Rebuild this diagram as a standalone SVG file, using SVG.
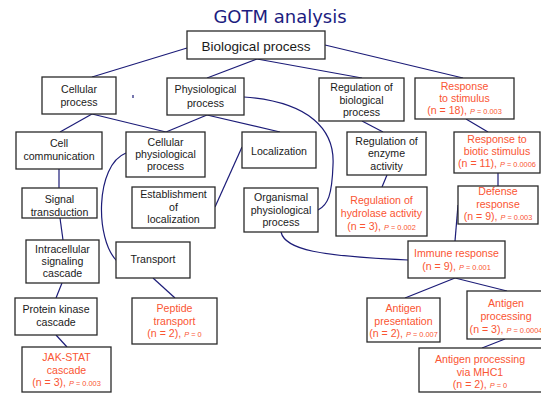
<svg xmlns="http://www.w3.org/2000/svg" width="541" height="394" viewBox="0 0 541 394">
<style>
.box{fill:#fff;stroke:#2a2a2a;stroke-width:1.3}
.t{font-family:"Liberation Sans",Arial,sans-serif;font-size:10.6px;fill:#1a1a1a;text-anchor:middle}
.r{fill:#fa5533}
.p{font-size:7.4px}
.pi{font-style:italic}
.c{fill:none;stroke:#1c1c78;stroke-width:1.2}
.title{font-family:"DejaVu Sans",Verdana,sans-serif;font-size:18px;fill:#1c1c80;text-anchor:middle}
</style>
<rect width="541" height="394" fill="#fff"/>
<text class="title" x="280" y="23">GOTM analysis</text>
<g id="connectors">
<line class="c" x1="187" y1="48" x2="92" y2="77"/>
<line class="c" x1="257" y1="59" x2="207" y2="78"/>
<line class="c" x1="257" y1="59" x2="362" y2="78"/>
<line class="c" x1="325" y1="45" x2="463" y2="78"/>
<line class="c" x1="92" y1="114" x2="60" y2="132"/>
<line class="c" x1="92" y1="114" x2="166" y2="132"/>
<line class="c" x1="207" y1="115" x2="166" y2="132"/>
<line class="c" x1="207" y1="115" x2="280" y2="132"/>
<path class="c" d="M244,97 C310,102 335,130 333,165 C332,195 328,205 318,210"/>
<line class="c" x1="362" y1="121" x2="383" y2="132"/>
<line class="c" x1="466" y1="119" x2="488" y2="132"/>
<line class="c" x1="59" y1="169" x2="59" y2="188"/>
<path class="c" d="M126,153 C95,165 95,240 117,261"/>
<line class="c" x1="215" y1="207" x2="242" y2="147"/>
<line class="c" x1="387" y1="175" x2="382" y2="187"/>
<line class="c" x1="498" y1="173" x2="498" y2="186"/>
<line class="c" x1="60" y1="218" x2="63" y2="240"/>
<line class="c" x1="458" y1="205" x2="455" y2="241"/>
<path class="c" d="M281,232 C285,250 320,256 408,260"/>
<line class="c" x1="62" y1="283" x2="56" y2="298"/>
<line class="c" x1="153" y1="278" x2="175" y2="298"/>
<line class="c" x1="56" y1="335" x2="67" y2="347"/>
<line class="c" x1="455" y1="278" x2="405" y2="298"/>
<line class="c" x1="455" y1="278" x2="507" y2="291"/>
<line class="c" x1="505" y1="339" x2="482" y2="348"/>
<line class="c" x1="133" y1="95" x2="133" y2="98" stroke-width="1"/>
</g>
<g id="bio"><rect class="box" x="187" y="31" width="138" height="28"/><text class="t" x="256" y="51" style="font-size:13.5px">Biological process</text></g>
<g id="cellular"><rect class="box" x="42" y="77" width="74" height="37"/><text class="t" x="79" y="93">Cellular</text><text class="t" x="79" y="106">process</text></g>
<g id="physiological"><rect class="box" x="167" y="78" width="77" height="37"/><text class="t" x="205.5" y="93">Physiological</text><text class="t" x="205.5" y="107">process</text></g>
<g id="regbio"><rect class="box" x="319" y="78" width="85" height="43"/><text class="t" x="361.5" y="91">Regulation of</text><text class="t" x="361.5" y="103.5">biological</text><text class="t" x="361.5" y="116">process</text></g>
<g id="stimulus"><rect class="box" x="415" y="78" width="99" height="41"/><text class="t r" x="464.5" y="90">Response</text><text class="t r" x="464.5" y="102">to stimulus</text><text class="t r" x="464.5" y="114">(n = 18), <tspan class="p pi">P</tspan><tspan class="p"> = 0.003</tspan></text></g>
<g id="cellcomm"><rect class="box" x="16" y="132" width="86" height="37"/><text class="t" x="59" y="147">Cell</text><text class="t" x="59" y="160">communication</text></g>
<g id="cellphys"><rect class="box" x="126" y="132" width="79" height="45"/><text class="t" x="165.5" y="146">Cellular</text><text class="t" x="165.5" y="158">physiological</text><text class="t" x="165.5" y="170">process</text></g>
<g id="localization"><rect class="box" x="242" y="132" width="74" height="36"/><text class="t" x="279" y="155">Localization</text></g>
<g id="regenzyme"><rect class="box" x="347" y="132" width="79" height="43"/><text class="t" x="386.5" y="145">Regulation of</text><text class="t" x="386.5" y="157">enzyme</text><text class="t" x="386.5" y="169.5">activity</text></g>
<g id="biotic"><rect class="box" x="454" y="132" width="86" height="41"/><text class="t r" x="497" y="143">Response to</text><text class="t r" x="497" y="155">biotic stimulus</text><text class="t r" x="497" y="167">(n = 11), <tspan class="p pi">P</tspan><tspan class="p"> = 0.0006</tspan></text></g>
<g id="signal"><rect class="box" x="22" y="188" width="75" height="30"/><text class="t" x="59.5" y="203">Signal</text><text class="t" x="59.5" y="216">transduction</text></g>
<g id="establishment"><rect class="box" x="132" y="187" width="83" height="41"/><text class="t" x="173.5" y="198">Establishment</text><text class="t" x="173.5" y="210.5">of</text><text class="t" x="173.5" y="223">localization</text></g>
<g id="organismal"><rect class="box" x="244" y="188" width="74" height="44"/><text class="t" x="281" y="201">Organismal</text><text class="t" x="281" y="213.5">physiological</text><text class="t" x="281" y="226">process</text></g>
<g id="hydrolase"><rect class="box" x="336" y="187" width="91" height="49"/><text class="t r" x="381.5" y="204">Regulation of</text><text class="t r" x="381.5" y="217">hydrolase activity</text><text class="t r" x="381.5" y="230">(n = 3), <tspan class="p pi">P</tspan><tspan class="p"> = 0.002</tspan></text></g>
<g id="defense"><rect class="box" x="458" y="186" width="80" height="38"/><text class="t r" x="498" y="195">Defense</text><text class="t r" x="498" y="207.5">response</text><text class="t r" x="498" y="220">(n = 9), <tspan class="p pi">P</tspan><tspan class="p"> = 0.003</tspan></text></g>
<g id="intracellular"><rect class="box" x="26" y="240" width="73" height="43"/><text class="t" x="62.5" y="253">Intracellular</text><text class="t" x="62.5" y="265">signaling</text><text class="t" x="62.5" y="277">cascade</text></g>
<g id="transport"><rect class="box" x="116" y="242" width="74" height="36"/><text class="t" x="153" y="263">Transport</text></g>
<g id="immune"><rect class="box" x="408" y="241" width="97" height="37"/><text class="t r" x="456.5" y="257">Immune response</text><text class="t r" x="456.5" y="269.5">(n = 9), <tspan class="p pi">P</tspan><tspan class="p"> = 0.001</tspan></text></g>
<g id="proteinkinase"><rect class="box" x="15" y="298" width="82" height="37"/><text class="t" x="56" y="313">Protein kinase</text><text class="t" x="56" y="326">cascade</text></g>
<g id="peptide"><rect class="box" x="132" y="298" width="85" height="46"/><text class="t r" x="174.5" y="312">Peptide</text><text class="t r" x="174.5" y="324.5">transport</text><text class="t r" x="174.5" y="337">(n = 2), <tspan class="p pi">P</tspan><tspan class="p"> = 0</tspan></text></g>
<g id="jakstat"><rect class="box" x="22" y="347" width="89" height="45"/><text class="t r" x="66.5" y="361">JAK-STAT</text><text class="t r" x="66.5" y="373.5">cascade</text><text class="t r" x="66.5" y="386">(n = 3), <tspan class="p pi">P</tspan><tspan class="p"> = 0.003</tspan></text></g>
<g id="antigenpresentation"><rect class="box" x="367" y="298" width="73" height="44"/><text class="t r" x="403.5" y="312">Antigen</text><text class="t r" x="403.5" y="324.5">presentation</text><text class="t r" x="403.5" y="337">(n = 2), <tspan class="p pi">P</tspan><tspan class="p"> = 0.007</tspan></text></g>
<g id="antigenprocessing"><rect class="box" x="467" y="291" width="80" height="48"/><text class="t r" x="506" y="307">Antigen</text><text class="t r" x="506" y="319.5">processing</text><text class="t r" x="506" y="333">(n = 3), <tspan class="p pi">P</tspan><tspan class="p"> = 0.0004</tspan></text></g>
<g id="mhc1"><rect class="box" x="419" y="348" width="125" height="44"/><text class="t r" x="480" y="363">Antigen processing</text><text class="t r" x="480" y="375.5">via MHC1</text><text class="t r" x="480" y="388">(n = 2), <tspan class="p pi">P</tspan><tspan class="p"> = 0</tspan></text></g>
</svg>
